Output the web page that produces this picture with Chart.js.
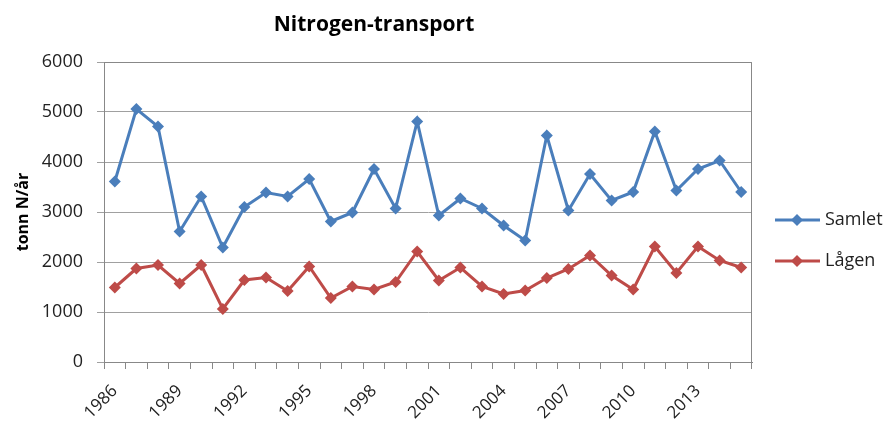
<!DOCTYPE html>
<html>
<head>
<meta charset="utf-8">
<script src="https://cdn.jsdelivr.net/npm/chart.js@4"></script>
<style>
  html, body { margin: 0; padding: 0; background: #fff; }
  #wrap { width: 888px; height: 421px; position: relative; }
</style>
</head>
<body>
<div id="wrap"><canvas id="chart"></canvas></div>
<script>
// Årlig nitrogentransport, tonn N/år
const years = [
  1986, 1987, 1988, 1989, 1990, 1991, 1992, 1993, 1994, 1995,
  1996, 1997, 1998, 1999, 2000, 2001, 2002, 2003, 2004, 2005,
  2006, 2007, 2008, 2009, 2010, 2011, 2012, 2013, 2014, 2015
];
const samlet = [
  3610, 5060, 4710, 2610, 3310, 2290, 3100, 3390, 3310, 3660,
  2810, 2990, 3860, 3070, 4810, 2930, 3270, 3070, 2730, 2430,
  4530, 3030, 3760, 3230, 3400, 4610, 3430, 3860, 4030, 3400
];
const laagen = [
  1490, 1870, 1940, 1570, 1940, 1060, 1640, 1690, 1420, 1910,
  1280, 1510, 1450, 1600, 2210, 1630, 1890, 1510, 1360, 1430,
  1680, 1860, 2130, 1730, 1450, 2310, 1780, 2310, 2030, 1890
];
const yTicks = [0, 1000, 2000, 3000, 4000, 5000, 6000];

const font = "'Open Sans', sans-serif";
const blue = "#4A7EBB";
const red = "#BE4B48";

const series = [
  { label: "Samlet", data: samlet, color: blue },
  { label: "Lågen", data: laagen, color: red }
];

// Title, plot frame and legend are drawn by hand
const extras = {
  id: "extras",
  afterDraw(chart) {
    const ctx = chart.ctx;
    const area = chart.chartArea;
    ctx.save();

    ctx.strokeStyle = "#888";
    ctx.lineWidth = 1;
    ctx.beginPath();
    ctx.moveTo(area.left, area.top + 0.5);
    ctx.lineTo(area.right - 0.5, area.top + 0.5);
    ctx.lineTo(area.right - 0.5, area.bottom);
    ctx.stroke();

    ctx.fillStyle = "#000";
    ctx.font = "bold 21px " + font;
    ctx.textAlign = "center";
    ctx.textBaseline = "middle";
    ctx.fillText("Nitrogen-transport", 374, 25);

    ctx.font = "18px " + font;
    ctx.textAlign = "left";
    series.forEach((s, i) => {
      const y = 220 + i * 41;
      ctx.strokeStyle = s.color;
      ctx.lineWidth = 3;
      ctx.beginPath();
      ctx.moveTo(775, y);
      ctx.lineTo(820, y);
      ctx.stroke();
      ctx.fillStyle = s.color;
      ctx.beginPath();
      ctx.moveTo(797, y - 6);
      ctx.lineTo(803, y);
      ctx.lineTo(797, y + 6);
      ctx.lineTo(791, y);
      ctx.closePath();
      ctx.fill();
      ctx.fillStyle = "#222";
      ctx.fillText(s.label, 825, y);
    });
    ctx.restore();
  }
};

new Chart(document.getElementById("chart"), {
  type: "line",
  data: {
    labels: years,
    datasets: series.map(s => ({
      label: s.label,
      data: s.data,
      borderColor: s.color,
      backgroundColor: s.color,
      borderWidth: 3,
      pointStyle: "rectRot",
      pointRadius: 6,
      pointBorderWidth: 0,
      tension: 0
    }))
  },
  options: {
    responsive: true,
    maintainAspectRatio: false,
    animation: false,
    layout: { padding: { top: 62, right: 136, left: 0, bottom: 0 } },
    plugins: {
      legend: { display: false },
      title: { display: false },
      tooltip: { enabled: false }
    },
    scales: {
      x: {
        type: "category",
        offset: true,
        grid: {
          offset: true,
          drawOnChartArea: false,
          drawTicks: true,
          tickLength: 7,
          color: "#888"
        },
        border: { color: "#888", width: 1 },
        ticks: {
          autoSkip: false,
          maxRotation: 45,
          minRotation: 45,
          padding: 12,
          labelOffset: 0,
          color: "#222",
          font: { family: font, size: 17 },
          callback: (v, i) => (i % 3 === 0 ? String(years[i]) : "")
        },
        afterFit: scale => { scale.height = 59; }
      },
      y: {
        min: 0,
        max: 6000,
        afterBuildTicks: scale => {
          scale.ticks = yTicks.map(v => ({ value: v }));
        },
        grid: {
          color: "#a0a0a0",
          lineWidth: 1,
          drawTicks: true,
          tickLength: 7
        },
        border: { color: "#888", width: 1 },
        ticks: {
          padding: 14,
          color: "#222",
          font: { family: font, size: 18 },
          callback: v => String(v)
        },
        title: {
          display: true,
          text: "tonn N/år",
          color: "#000",
          font: { family: font, size: 16, weight: "bold" },
          padding: { top: 14, bottom: 0 }
        },
        afterFit: scale => { scale.width = 104; }
      }
    }
  },
  plugins: [extras]
});
</script>
</body>
</html>
